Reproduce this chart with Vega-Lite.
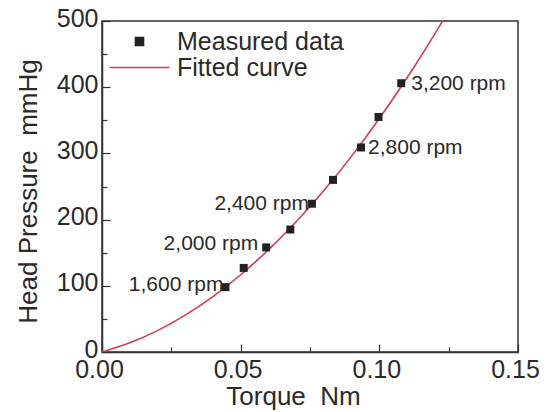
{
  "$schema": "https://vega.github.io/schema/vega-lite/v6.json",
  "width": 416,
  "height": 331,
  "autosize": "none",
  "padding": {"left": 102, "top": 21, "right": 29, "bottom": 60},
  "background": "white",
  "config": {
    "view": {"stroke": "#333", "strokeWidth": 1.5},
    "font": "Liberation Sans",
    "axis": {
      "domainColor": "#333",
      "domainWidth": 1.5,
      "tickColor": "#333",
      "tickWidth": 1.2,
      "grid": false,
      "labelFlush": false,
      "labelFont": "Liberation Sans",
      "labelFontSize": 25,
      "labelColor": "#2a2a2a",
      "titleFont": "Liberation Sans",
      "titleFontSize": 26,
      "titleFontWeight": "normal",
      "titleColor": "#2a2a2a"
    },
    "legend": {"labelFont": "Liberation Sans"}
  },
  "datasets": {
    "measured": [
      {"torque": 0.0445, "pressure": 98, "rpm": "1,600 rpm"},
      {"torque": 0.0511, "pressure": 127, "rpm": ""},
      {"torque": 0.0592, "pressure": 158, "rpm": "2,000 rpm"},
      {"torque": 0.0679, "pressure": 185, "rpm": ""},
      {"torque": 0.0757, "pressure": 224, "rpm": "2,400 rpm"},
      {"torque": 0.0833, "pressure": 260, "rpm": ""},
      {"torque": 0.0934, "pressure": 309, "rpm": "2,800 rpm"},
      {"torque": 0.0997, "pressure": 355, "rpm": ""},
      {"torque": 0.1079, "pressure": 406, "rpm": "3,200 rpm"}
    ],
    "fitted": [
      {"torque": 0.0, "pressure": 0},
      {"torque": 0.01, "pressure": 13.8},
      {"torque": 0.02, "pressure": 32.3},
      {"torque": 0.03, "pressure": 55.7},
      {"torque": 0.04, "pressure": 83.8},
      {"torque": 0.05, "pressure": 116.7},
      {"torque": 0.06, "pressure": 154.3},
      {"torque": 0.07, "pressure": 196.7},
      {"torque": 0.08, "pressure": 243.9},
      {"torque": 0.09, "pressure": 295.9},
      {"torque": 0.10, "pressure": 352.7},
      {"torque": 0.11, "pressure": 414.2},
      {"torque": 0.12, "pressure": 480.6},
      {"torque": 0.1228, "pressure": 500}
    ]
  },
  "encoding": {
    "x": {
      "field": "torque",
      "type": "quantitative",
      "scale": {"domain": [0, 0.15], "nice": false, "zero": false},
      "axis": {
        "title": "Torque\u00a0\u00a0Nm",
        "values": [0, 0.025, 0.05, 0.075, 0.1, 0.125, 0.15],
        "format": ".2f",
        "labelExpr": "round(datum.value*1000) % 50 == 0 ? datum.label : ''",
        "tickSize": {"condition": {"test": "round(datum.value*1000) % 50 != 0", "value": -5}, "value": -8},
        "labelPadding": 13,
        "labelOffset": -3,
        "titlePadding": 1,
        "titleX": 191
      }
    },
    "y": {
      "field": "pressure",
      "type": "quantitative",
      "scale": {"domain": [0, 500], "nice": false},
      "axis": {
        "title": "Head Pressure\u00a0\u00a0mmHg",
        "values": [0, 50, 100, 150, 200, 250, 300, 350, 400, 450, 500],
        "labelExpr": "datum.value % 100 == 0 ? datum.label : ''",
        "tickSize": {"condition": {"test": "datum.value % 100 != 0", "value": -5}, "value": -8},
        "labelPadding": 12,
        "labelOffset": -3,
        "titlePadding": 15,
        "titleY": 170
      }
    }
  },
  "layer": [
    {
      "data": {"name": "fitted"},
      "mark": {"type": "line", "strokeWidth": 1.6, "interpolate": "monotone", "clip": true},
      "encoding": {
        "color": {
          "datum": "Fitted curve",
          "scale": {"domain": ["Measured data", "Fitted curve"], "range": ["#222222", "#d63a55"]},
          "legend": {
            "orient": "none",
            "legendX": 25,
            "legendY": 8,
            "title": null,
            "symbolSize": 3600,
            "symbolStrokeWidth": 1.6,
            "labelFontSize": 25,
            "labelColor": "#2a2a2a",
            "labelOffset": 25,
            "labelLimit": 400,
            "rowPadding": -20,
            "encode": {
              "symbols": {
                "update": {
                  "shape": {"signal": "datum.value === 'Fitted curve' ? 'stroke' : 'square'"},
                  "size": {"signal": "datum.value === 'Fitted curve' ? 3600 : 64"},
                  "fill": {"signal": "datum.value === 'Fitted curve' ? 'transparent' : '#222222'"},
                  "stroke": {"signal": "datum.value === 'Fitted curve' ? '#d63a55' : '#222222'"},
                  "strokeWidth": {"value": 1.6}
                }
              }
            }
          }
        }
      }
    },
    {
      "data": {"name": "measured"},
      "mark": {"type": "point", "shape": "square", "filled": true, "size": 64, "opacity": 1},
      "encoding": {
        "color": {"datum": "Measured data"}
      }
    },
    {
      "data": {"name": "measured"},
      "transform": [{"filter": "datum.rpm == '1,600 rpm'"}],
      "mark": {"type": "text", "align": "right", "baseline": "middle", "dx": -2, "dy": -2, "fontSize": 21, "font": "Liberation Sans", "color": "#2a2a2a"},
      "encoding": {"text": {"field": "rpm"}}
    },
    {
      "data": {"name": "measured"},
      "transform": [{"filter": "datum.rpm == '2,000 rpm'"}],
      "mark": {"type": "text", "align": "right", "baseline": "middle", "dx": -8, "dy": -3, "fontSize": 21, "font": "Liberation Sans", "color": "#2a2a2a"},
      "encoding": {"text": {"field": "rpm"}}
    },
    {
      "data": {"name": "measured"},
      "transform": [{"filter": "datum.rpm == '2,400 rpm'"}],
      "mark": {"type": "text", "align": "right", "baseline": "middle", "dx": -3, "dy": 0, "fontSize": 21, "font": "Liberation Sans", "color": "#2a2a2a"},
      "encoding": {"text": {"field": "rpm"}}
    },
    {
      "data": {"name": "measured"},
      "transform": [{"filter": "datum.rpm == '2,800 rpm'"}],
      "mark": {"type": "text", "align": "left", "baseline": "middle", "dx": 7, "dy": 1, "fontSize": 21, "font": "Liberation Sans", "color": "#2a2a2a"},
      "encoding": {"text": {"field": "rpm"}}
    },
    {
      "data": {"name": "measured"},
      "transform": [{"filter": "datum.rpm == '3,200 rpm'"}],
      "mark": {"type": "text", "align": "left", "baseline": "middle", "dx": 10, "dy": 1, "fontSize": 21, "font": "Liberation Sans", "color": "#2a2a2a"},
      "encoding": {"text": {"field": "rpm"}}
    }
  ]
}
